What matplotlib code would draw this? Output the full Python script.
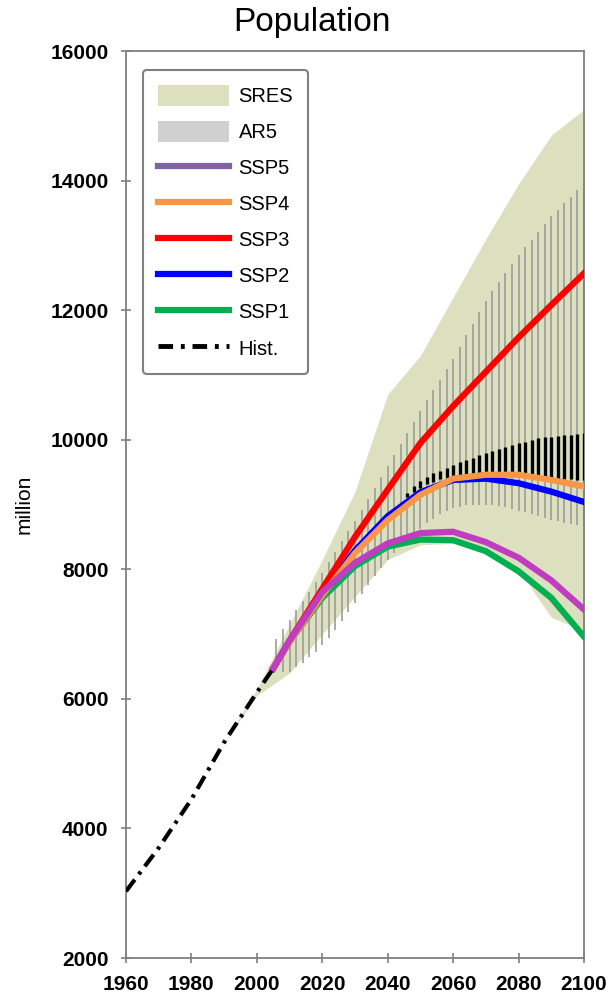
import matplotlib
matplotlib.use("Agg")
import matplotlib.pyplot as plt
from matplotlib.patches import Patch
from matplotlib.lines import Line2D
import numpy as np

plt.rcParams['font.family'] = ['Liberation Sans', 'DejaVu Sans']

# historical population (million)
hist_years = [1960, 1970, 1980, 1990, 2000, 2005]
hist_pop = [3030, 3700, 4450, 5330, 6100, 6470]

# SSP scenarios
ssp_years = [2005, 2010, 2020, 2030, 2040, 2050, 2060, 2070, 2080, 2090, 2100]
ssp1 = [6470, 6890, 7560, 8050, 8350, 8460, 8450, 8280, 7970, 7560, 6960]
ssp2 = [6470, 6890, 7620, 8290, 8820, 9190, 9380, 9400, 9330, 9200, 9040]
ssp3 = [6470, 6900, 7700, 8500, 9230, 9950, 10520, 11050, 11580, 12080, 12570]
ssp4 = [6470, 6880, 7600, 8250, 8760, 9150, 9400, 9460, 9460, 9380, 9280]
ssp5 = [6470, 6900, 7650, 8100, 8400, 8560, 8580, 8420, 8180, 7830, 7380]

# SRES range
sres_years = [1990, 2000, 2010, 2020, 2030, 2040, 2050, 2060, 2070, 2080, 2090, 2100]
sres_low = [5330, 6050, 6400, 7000, 7580, 8150, 8380, 8400, 8300, 7990, 7260, 7050]
sres_high = [5330, 6150, 7150, 8150, 9200, 10700, 11300, 12200, 13100, 13950, 14700, 15100]

# AR5 range (one bar every two years)
ar5_years = list(range(2006, 2101, 2))
ar5_low = [6600, 6420, 6420, 6500, 6560, 6650, 6730, 6830, 6940, 7070,
           7200, 7340, 7480, 7620, 7760, 7890, 8020, 8140, 8250, 8360,
           8460, 8550, 8630, 8710, 8780, 8850, 8900, 8940, 8970, 8990,
           9000, 9000, 9000, 8990, 8980, 8960, 8930, 8900, 8880, 8850,
           8820, 8790, 8760, 8740, 8720, 8700, 8680, 8660]
ar5_high = [6920, 7080, 7220, 7370, 7510, 7650, 7800, 7950, 8110, 8270,
            8430, 8590, 8750, 8920, 9090, 9260, 9430, 9600, 9770, 9940,
            10110, 10280, 10450, 10610, 10770, 10930, 11090, 11250, 11430, 11610,
            11790, 11970, 12150, 12290, 12430, 12570, 12710, 12850, 12970, 13090,
            13210, 13330, 13450, 13550, 13650, 13750, 13850, 13950]

# dense AR5 core (black bars)
core_years = list(range(2046, 2101, 2))
core_low = [9120, 9200, 9260, 9310, 9350, 9400, 9410, 9420, 9430, 9430,
            9430, 9440, 9440, 9450, 9450, 9455, 9450, 9445, 9440, 9435,
            9430, 9420, 9410, 9400, 9395, 9390, 9385, 9380]
core_high = [9180, 9280, 9360, 9420, 9480, 9520, 9570, 9610, 9650, 9690,
             9720, 9760, 9790, 9820, 9850, 9890, 9920, 9950, 9970, 9990,
             10020, 10040, 10050, 10060, 10070, 10080, 10090, 10100]

SRES_COLOR = '#DCE0BE'
AR5_COLOR = '#9C9C9C'
C_SSP1 = '#00B050'
C_SSP2 = '#0000FF'
C_SSP3 = '#FF0000'
C_SSP4 = '#F79646'
C_SSP5 = '#C03CC0'

fig = plt.figure(figsize=(6.08, 10.02), dpi=100)
ax = fig.add_axes([0.2072, 0.0439, 0.7533, 0.9051])

ax.fill_between(sres_years, sres_low, sres_high, color=SRES_COLOR, lw=0, zorder=1)
ax.vlines(ar5_years, ar5_low, ar5_high, color=AR5_COLOR, lw=1.2, zorder=2)
ax.vlines(core_years, core_low, core_high, color='black', lw=2.4, zorder=3)

lw = 4.5
ax.plot(ssp_years, ssp1, color=C_SSP1, lw=lw, zorder=4)
ax.plot(ssp_years, ssp2, color=C_SSP2, lw=lw, zorder=4)
ax.plot(ssp_years, ssp3, color=C_SSP3, lw=lw, zorder=4)
ax.plot(ssp_years, ssp4, color=C_SSP4, lw=lw, zorder=4)
ax.plot(ssp_years, ssp5, color=C_SSP5, lw=lw, zorder=4)
ax.plot(hist_years, hist_pop, color='black', lw=3, zorder=5,
        linestyle=(0, (3.5, 1.6, 0.8, 1.6)))

ax.set_xlim(1960, 2100)
ax.set_ylim(2000, 16000)
ax.set_xticks(range(1960, 2101, 20))
ax.set_yticks(range(2000, 16001, 2000))
for s in ax.spines.values():
    s.set_color('#7F7F7F')
    s.set_linewidth(1.3)
ax.tick_params(direction='inout', length=7, width=1.2, color='#7F7F7F',
               labelsize=15)
ax.tick_params(axis='y', pad=9)
ax.tick_params(axis='x', pad=9)
for lab in ax.get_xticklabels() + ax.get_yticklabels():
    lab.set_fontweight('bold')

# title sits centred on the figure, not on the axes
fig.text(0.513, 0.978, 'Population', fontsize=24, ha='center', va='center')
ax.set_ylabel('million', fontsize=15, labelpad=12)

handles = [
    Patch(facecolor=SRES_COLOR, edgecolor='none', label='SRES'),
    Patch(facecolor='#D0D0D0', edgecolor='none', label='AR5'),
    Line2D([], [], color='#8064A2', lw=4.5, label='SSP5'),
    Line2D([], [], color=C_SSP4, lw=4.5, label='SSP4'),
    Line2D([], [], color=C_SSP3, lw=4.5, label='SSP3'),
    Line2D([], [], color=C_SSP2, lw=4.5, label='SSP2'),
    Line2D([], [], color=C_SSP1, lw=4.5, label='SSP1'),
    Line2D([], [], color='black', lw=3.5, linestyle=(0, (3, 1.6, 0.8, 1.6)), label='Hist.'),
]
leg = ax.legend(handles=handles, loc='upper left', bbox_to_anchor=(0.037, 0.979),
                borderaxespad=0, fontsize=14.5, handlelength=3.5, handleheight=1.2,
                handletextpad=0.5, labelspacing=0.74, borderpad=0.75,
                frameon=True, fancybox=True, framealpha=1)
leg.get_frame().set_edgecolor('#808080')
leg.get_frame().set_linewidth(1.5)
leg.set_zorder(10)

fig.savefig('out.png', dpi=100)
